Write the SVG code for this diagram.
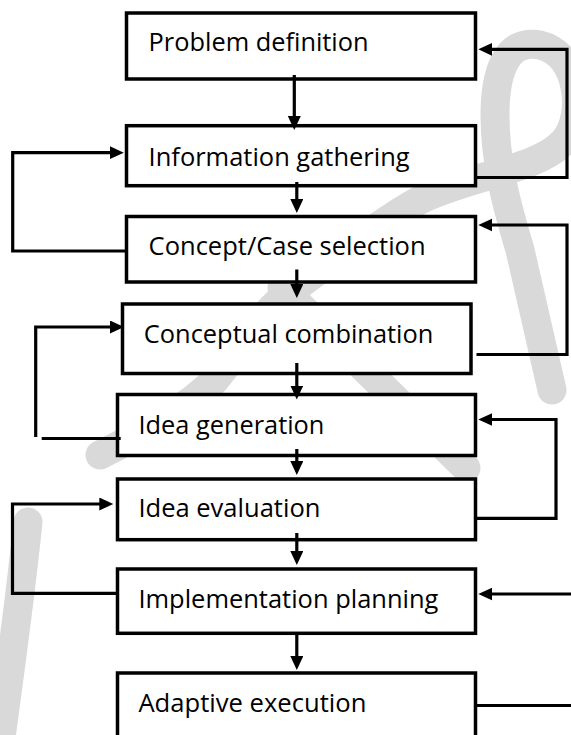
<svg xmlns="http://www.w3.org/2000/svg" width="571" height="735" viewBox="0 0 571 735">
  <style>
    .wm { fill: none; stroke: #d9d9d9; stroke-width: 29; stroke-linecap: round; stroke-linejoin: round; }
    .box rect { fill: #ffffff; stroke: #000000; stroke-width: 3.5; }
    .box text { font-family: "Open Sans", "Noto Sans", "Liberation Sans", sans-serif; font-size: 25.5px; fill: #000000; font-variant-ligatures: none; }
    .conn path { fill: none; stroke: #000000; stroke-width: 3.2; stroke-linecap: butt; stroke-linejoin: miter; }
  </style>
  <defs>
    <marker id="arrow" markerUnits="userSpaceOnUse" markerWidth="15" markerHeight="14" refX="4" refY="6.5" orient="auto">
      <path d="M0,0 L14,6.5 L0,13 z" fill="#000000"/>
    </marker>
  </defs>

  <rect width="571" height="735" fill="#ffffff"/>

  <!-- light grey background flourish -->
  <g id="backdrop">
    <path class="wm" d="M 100 455 C 150 430, 190 405, 215 380 C 240 350, 262 312, 292 290 C 340 255, 380 222, 420 200 C 470 175, 540 170, 565 140 C 585 115, 580 55, 540 45 C 505 38, 495 75, 495 115 C 495 160, 505 200, 520 250 L 552 390"/>
    <path class="wm" d="M 282 288 L 466 468"/>
    <path class="wm" d="M 28 522 C 20 600, 10 670, 0 745"/>
  </g>

  <!-- process steps -->
  <g id="step-problem-definition" class="box">
    <rect x="126.5" y="13" width="349" height="66"/>
    <text x="148.6" y="50.5" textLength="220" lengthAdjust="spacingAndGlyphs">Problem definition</text>
  </g>
  <g id="step-information-gathering" class="box">
    <rect x="126.5" y="125.7" width="349" height="60"/>
    <text x="148.6" y="165.5" textLength="261" lengthAdjust="spacingAndGlyphs">Information gathering</text>
  </g>
  <g id="step-concept-case-selection" class="box">
    <rect x="126.5" y="216.5" width="349" height="65.5"/>
    <text x="148.6" y="255" textLength="277" lengthAdjust="spacingAndGlyphs">Concept/Case selection</text>
  </g>
  <g id="step-conceptual-combination" class="box">
    <rect x="122.5" y="304" width="348.5" height="69.5"/>
    <text x="143.8" y="342.5" textLength="289.6" lengthAdjust="spacingAndGlyphs">Conceptual combination</text>
  </g>
  <g id="step-idea-generation" class="box">
    <rect x="117.5" y="394.5" width="358" height="61"/>
    <text x="138.4" y="433.5" textLength="186" lengthAdjust="spacingAndGlyphs">Idea generation</text>
  </g>
  <g id="step-idea-evaluation" class="box">
    <rect x="117.5" y="479" width="358" height="60.7"/>
    <text x="138.4" y="517" textLength="182" lengthAdjust="spacingAndGlyphs">Idea evaluation</text>
  </g>
  <g id="step-implementation-planning" class="box">
    <rect x="117.5" y="569" width="358" height="64.3"/>
    <text x="138.4" y="608" textLength="300" lengthAdjust="spacingAndGlyphs">Implementation planning</text>
  </g>
  <g id="step-adaptive-execution" class="box">
    <rect x="117.5" y="673" width="358" height="80"/>
    <text x="138.4" y="711.5" textLength="228" lengthAdjust="spacingAndGlyphs">Adaptive execution</text>
  </g>

  <!-- connectors -->
  <g id="connectors" class="conn">
    <!-- forward flow -->
    <path d="M 294.3 75 V 120" marker-end="url(#arrow)"/>
    <path d="M 296.8 182 V 203" marker-end="url(#arrow)"/>
    <path d="M 296.8 269.5 V 288" marker-end="url(#arrow)"/>
    <path d="M 296.8 363 V 389.5" marker-end="url(#arrow)"/>
    <path d="M 296.8 449 V 465" marker-end="url(#arrow)"/>
    <path d="M 296.8 533 V 555" marker-end="url(#arrow)"/>
    <path d="M 296.8 634 V 660" marker-end="url(#arrow)"/>

    <!-- right-hand feedback loops -->
    <path d="M 477 177.5 H 567 V 49.3 H 488.3" marker-end="url(#arrow)"/>
    <path d="M 476.5 354.5 H 567 V 225 H 488.3" marker-end="url(#arrow)"/>
    <path d="M 477 518.3 H 556 V 419.5 H 488.3" marker-end="url(#arrow)"/>
    <path d="M 571 594 H 488.3" marker-end="url(#arrow)"/>
    <path d="M 477 705.5 H 571"/>

    <!-- left-hand feedback loops -->
    <path d="M 126 251 H 12.7 V 152.7 H 113.8" marker-end="url(#arrow)"/>
    <path d="M 35.7 437 V 327 H 114" marker-end="url(#arrow)"/>
    <path d="M 41.7 438.5 H 120.7"/>
    <path d="M 117 593.3 H 12.5 V 504 H 103.3" marker-end="url(#arrow)"/>
  </g>
</svg>
